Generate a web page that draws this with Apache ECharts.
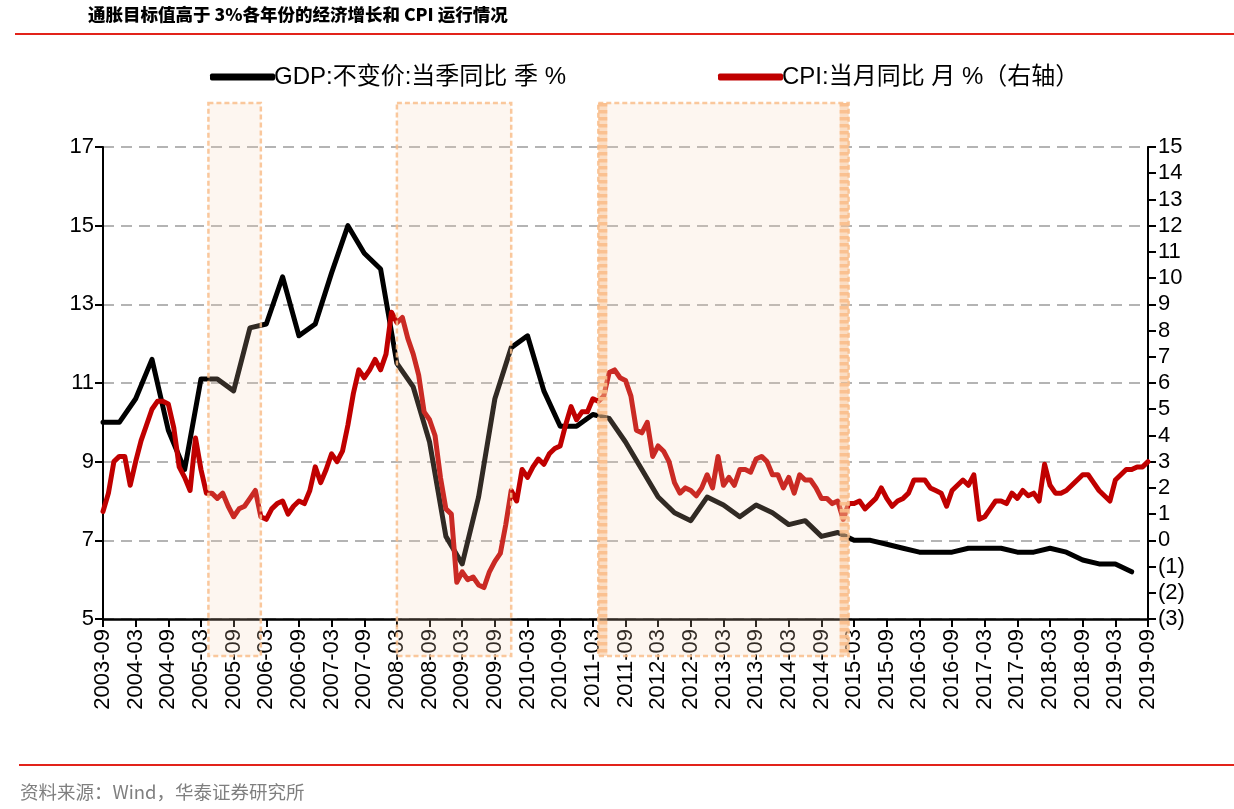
<!DOCTYPE html>
<html>
<head>
<meta charset="utf-8">
<script src="https://cdn.jsdelivr.net/npm/echarts@6/dist/echarts.min.js"></script>
<style>
html,body{margin:0;padding:0;background:#fff;}
#main{width:1234px;height:809px;}
</style>
</head>
<body>
<div id="main"></div>
<script>
// ---- data ----
const startMonth = '2003-09';
const endMonth = '2019-09';
const titleText = '通胀目标值高于 3%各年份的经济增长和 CPI 运行情况';
const sourceText = '资料来源：Wind，华泰证券研究所';
const gdpName = 'GDP:不变价:当季同比 季 %';
const cpiName = 'CPI:当月同比 月 %（右轴）';

// GDP quarterly (2003-09 .. 2019-06), placed at quarter-end months
const gdpValues = [
  10.0, 10.0,
  10.6, 11.6, 9.8, 8.8,
  11.1, 11.1, 10.8, 12.4,
  12.5, 13.7, 12.2, 12.5,
  13.8, 15.0, 14.3, 13.9,
  11.5, 10.9, 9.5, 7.1,
  6.4, 8.1, 10.6, 11.9,
  12.2, 10.8, 9.9, 9.9,
  10.2, 10.1, 9.5, 8.8,
  8.1, 7.7, 7.5, 8.1,
  7.9, 7.6, 7.9, 7.7,
  7.4, 7.5, 7.1, 7.2,
  7.0, 7.0, 6.9, 6.8,
  6.7, 6.7, 6.7, 6.8,
  6.8, 6.8, 6.7, 6.7,
  6.8, 6.7, 6.5, 6.4,
  6.4, 6.2
];

// CPI monthly (2003-09 .. 2019-09)
const cpiValues = [
  1.1, 1.8, 3.0, 3.2,
  3.2, 2.1, 3.0, 3.8, 4.4, 5.0, 5.3, 5.3, 5.2, 4.3, 2.8, 2.4,
  1.9, 3.9, 2.7, 1.8, 1.8, 1.6, 1.8, 1.3, 0.9, 1.2, 1.3, 1.6,
  1.9, 0.9, 0.8, 1.2, 1.4, 1.5, 1.0, 1.3, 1.5, 1.4, 1.9, 2.8,
  2.2, 2.7, 3.3, 3.0, 3.4, 4.4, 5.6, 6.5, 6.2, 6.5, 6.9, 6.5,
  7.1, 8.7, 8.3, 8.5, 7.7, 7.1, 6.3, 4.9, 4.6, 4.0, 2.4, 1.2,
  1.0, -1.6, -1.2, -1.5, -1.4, -1.7, -1.8, -1.2, -0.8, -0.5, 0.6, 1.9,
  1.5, 2.7, 2.4, 2.8, 3.1, 2.9, 3.3, 3.5, 3.6, 4.4, 5.1, 4.6,
  4.9, 4.9, 5.4, 5.3, 5.5, 6.4, 6.5, 6.2, 6.1, 5.5, 4.2, 4.1,
  4.5, 3.2, 3.6, 3.4, 3.0, 2.2, 1.8, 2.0, 1.9, 1.7, 2.0, 2.5,
  2.0, 3.2, 2.1, 2.4, 2.1, 2.7, 2.7, 2.6, 3.1, 3.2, 3.0, 2.5,
  2.5, 2.0, 2.4, 1.8, 2.5, 2.3, 2.3, 2.0, 1.6, 1.6, 1.4, 1.5,
  0.8, 1.4, 1.4, 1.5, 1.2, 1.4, 1.6, 2.0, 1.6, 1.3, 1.5, 1.6,
  1.8, 2.3, 2.3, 2.3, 2.0, 1.9, 1.8, 1.3, 1.9, 2.1, 2.3, 2.1,
  2.5, 0.8, 0.9, 1.2, 1.5, 1.5, 1.4, 1.8, 1.6, 1.9, 1.7, 1.8,
  1.5, 2.9, 2.1, 1.8, 1.8, 1.9, 2.1, 2.3, 2.5, 2.5, 2.2, 1.9,
  1.7, 1.5, 2.3, 2.5, 2.7, 2.7, 2.8, 2.8, 3.0
];

// shaded periods (inflation target above 3%)
const shadePeriods = [
  ['2005-04', '2006-02'],
  ['2008-03', '2009-12'],
  ['2011-04', '2015-02']
];

// ---- build categories ----
function buildMonths(a, b) {
  const out = [];
  let y = +a.slice(0, 4), m = +a.slice(5, 7);
  const ey = +b.slice(0, 4), em = +b.slice(5, 7);
  while (y < ey || (y === ey && m <= em)) {
    out.push(y + '-' + (m < 10 ? '0' + m : '' + m));
    m++; if (m > 12) { m = 1; y++; }
  }
  return out;
}
const months = buildMonths(startMonth, endMonth);
const gdpData = gdpValues.map((v, k) => [months[k * 3], v]);
const cpiData = cpiValues.map((v, k) => [months[k], v]);

const latin = '"Liberation Sans", Arial, "Noto Sans CJK SC", sans-serif';
const chart = echarts.init(document.getElementById('main'), null, {renderer: 'canvas'});

const legendText = {fontSize: 24, color: '#000', fontFamily: latin, padding: [0, 0, 0, -6]};
const option = {
  animation: false,
  backgroundColor: '#fff',
  grid: {left: 103, right: 86, top: 147, bottom: 190, containLabel: false},
  legend: [
    {
      data: [gdpName], left: 205, top: 60, icon: 'roundRect',
      itemWidth: 65, itemHeight: 7, itemGap: 4, textStyle: legendText
    },
    {
      data: [cpiName], left: 713, top: 60, icon: 'roundRect',
      itemWidth: 65, itemHeight: 7, itemGap: 4, textStyle: legendText
    }
  ],
  xAxis: {
    type: 'category', data: months, boundaryGap: false,
    axisLine: {show: true, onZero: false, lineStyle: {color: '#000', width: 2.5}},
    axisTick: {show: true, interval: 5, length: 8, lineStyle: {color: '#000', width: 2}},
    axisLabel: {interval: 5, rotate: 90, fontSize: 22, color: '#000', fontFamily: latin, margin: 10},
    splitLine: {show: false}
  },
  yAxis: [
    {
      type: 'value', min: 5, max: 17, interval: 2, position: 'left',
      axisLine: {show: true, lineStyle: {color: '#000', width: 2}},
      axisTick: {show: true, length: 8, lineStyle: {color: '#000', width: 2}},
      axisLabel: {fontSize: 22, color: '#000', fontFamily: latin, margin: 9},
      splitLine: {show: true, lineStyle: {color: '#B4B4B4', width: 2, type: [11, 7]}}
    },
    {
      type: 'value', min: -3, max: 15, interval: 1, position: 'right',
      axisLine: {show: true, lineStyle: {color: '#000', width: 2}},
      axisTick: {show: true, length: 8, lineStyle: {color: '#000', width: 2}},
      axisLabel: {
        fontSize: 22, color: '#000', fontFamily: latin, margin: 10,
        formatter: v => v < 0 ? '(' + (-v) + ')' : '' + v
      },
      splitLine: {show: false}
    }
  ],
  series: [
    {
      name: gdpName, type: 'line', yAxisIndex: 0, data: gdpData,
      symbol: 'none', color: '#000',
      lineStyle: {color: '#000', width: 5, join: 'round', cap: 'round'},
      z: 2
    },
    {
      name: cpiName, type: 'line', yAxisIndex: 1, data: cpiData,
      symbol: 'none', color: '#C00000',
      lineStyle: {color: '#C00000', width: 5, join: 'round', cap: 'round'},
      z: 3
    }
  ]
};
chart.setOption(option);

// ---- overlays: shaded periods, title, rules, source ----
const graphics = [];
const topY = 103, botY = 656;
shadePeriods.forEach((p, k) => {
  let x0 = chart.convertToPixel({xAxisIndex: 0}, p[0]);
  const x1 = chart.convertToPixel({xAxisIndex: 0}, p[1]);
  if (k === 0) x0 += 2;
  graphics.push({
    type: 'rect', z: 100, silent: true,
    shape: {x: x0, y: topY, width: x1 - x0, height: botY - topY},
    style: {fill: 'rgba(247,210,181,0.2)', stroke: 'rgba(249,190,140,0.85)', lineWidth: 2.5, lineDash: [5, 3]}
  });
  if (k === 2) {
    [x0 + 4.5, x1 - 4.5].forEach(xx => {
      graphics.push({
        type: 'line', z: 101, silent: true,
        shape: {x1: xx, y1: topY, x2: xx, y2: botY},
        style: {stroke: 'rgba(249,190,140,0.45)', lineWidth: 9}
      });
      graphics.push({
        type: 'line', z: 102, silent: true,
        shape: {x1: xx, y1: topY, x2: xx, y2: botY},
        style: {stroke: 'rgba(249,190,140,0.9)', lineWidth: 9, lineDash: [3.5, 3.5]}
      });
    });
  }
});
graphics.push({
  type: 'text', left: 88, top: 6, z: 110,
  style: {text: titleText, fill: '#000', font: '900 17.5px "Noto Sans CJK SC", "Liberation Sans", sans-serif'}
});
graphics.push({
  type: 'line', z: 110, shape: {x1: 15, y1: 34, x2: 1234, y2: 34},
  style: {stroke: '#E2231A', lineWidth: 2}
});
graphics.push({
  type: 'line', z: 110, shape: {x1: 19, y1: 765, x2: 1234, y2: 765},
  style: {stroke: '#E2231A', lineWidth: 2}
});
graphics.push({
  type: 'text', left: 20, top: 783, z: 110,
  style: {text: sourceText, fill: '#7F7F7F', font: '18.5px "Noto Sans CJK SC", "Liberation Sans", sans-serif'}
});
chart.setOption({graphic: graphics});
</script>
</body>
</html>
